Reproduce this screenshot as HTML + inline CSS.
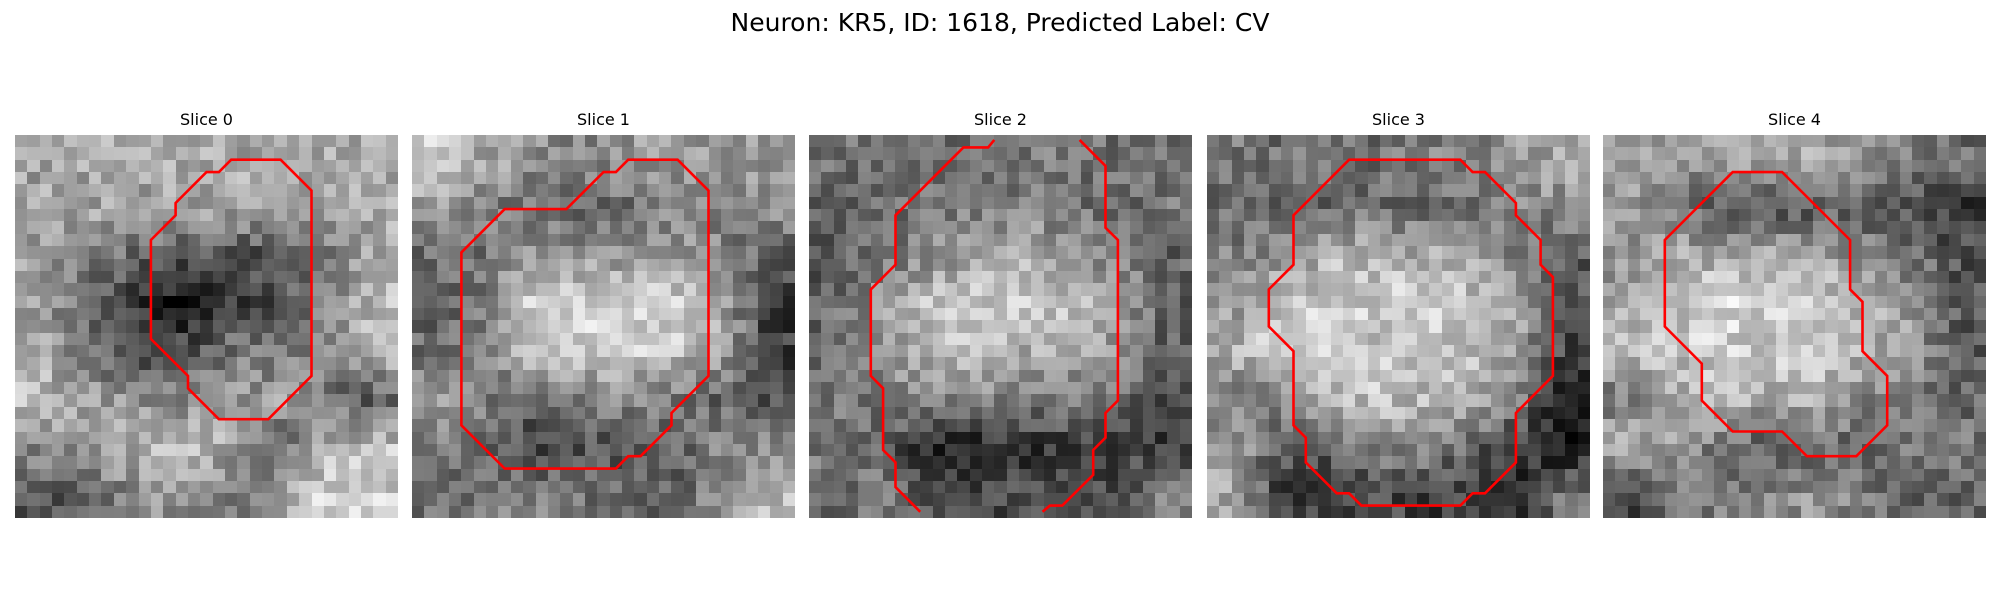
<!DOCTYPE html>
<html><head><meta charset="utf-8">
<style>
html,body{margin:0;padding:0;background:#fff;width:2000px;height:600px;overflow:hidden;font-family:"Liberation Sans","DejaVu Sans",sans-serif;}
#fig{position:absolute;left:0;top:0;}
</style></head>
<body>
<svg id="fig" width="2000" height="600" xmlns="http://www.w3.org/2000/svg">
<rect width="2000" height="600" fill="#fff"/>
<text x="1000" y="31" font-size="25" text-anchor="middle" fill="#000" font-family="DejaVu Sans, Liberation Sans, sans-serif">Neuron: KR5, ID: 1618, Predicted Label: CV</text>
<g id="panels"></g>
</svg>
<script>
const sliceLabels = ["Slice 0","Slice 1","Slice 2","Slice 3","Slice 4"];
const panelX = [15,412,809,1207,1603];
const coarse0 = [[160,170,175,170,165,170,175,165],[165,165,160,165,170,170,160,165],[160,140,105,90,80,70,120,170],[160,100,50,20,60,80,130,190],[165,110,75,85,115,115,140,195],[195,160,140,130,150,160,110,90],[140,160,175,195,170,90,170,195],[80,100,140,150,120,170,215,205]];
const coarse1 = [[200,170,150,130,150,160,150,150],[150,130,110,100,110,130,130,150],[110,110,160,150,150,160,130,90],[100,120,215,205,215,205,160,60],[110,130,195,205,205,195,160,60],[150,130,110,120,140,120,100,70],[130,100,65,85,85,100,130,150],[110,120,130,120,100,90,150,190]];
const coarse2 = [[120,120,120,110,120,120,110,110],[100,100,120,120,130,110,110,120],[90,110,140,160,170,160,120,100],[100,150,195,205,205,195,160,100],[110,150,185,185,175,175,150,90],[120,120,130,140,130,120,110,70],[120,100,35,35,55,55,55,55],[110,120,90,70,80,90,80,140]];
const coarse3 = [[120,110,130,110,130,130,150,170],[110,100,100,110,100,110,140,140],[130,140,180,180,170,160,110,90],[150,190,205,205,205,195,160,80],[180,205,205,195,195,195,160,70],[120,140,185,195,185,185,130,25],[170,90,90,140,140,100,55,25],[170,65,55,75,65,65,35,120]];
const coarse4 = [[160,160,160,170,170,150,130,110],[150,120,85,75,85,100,75,55],[140,170,170,170,170,130,110,80],[170,195,215,205,205,180,150,85],[185,195,205,205,195,170,150,85],[120,160,185,175,185,140,110,100],[170,150,115,85,105,100,130,120],[65,120,120,130,150,120,80,100]];
const contour0 = [[17.5,2],[21.5,2],[24,4.5],[24,19.5],[20.5,23],[16.5,23],[14,20.5],[14,19.5],[11,16.5],[11,8.5],[13,6.5],[13,5.5],[15.5,3],[16.5,3]];
const contour1 = [[17.5,2],[21.5,2],[24,4.5],[24,19.5],[21,22.5],[21,23.5],[18.5,26],[17.5,26],[16.5,27],[7.5,27],[4,23.5],[4,9.5],[7.5,6],[12.5,6],[15.5,3],[16.5,3]];
const contour2a = [[9,30.5],[7,28.5],[7,26.5],[6,25.5],[6,20.5],[5,19.5],[5,12.5],[7,10.5],[7,6.5],[12.5,1],[14.5,1],[15,0.4]];
const contour2b = [[21.9,0.4],[24,2.5],[24,7.5],[25,8.5],[25,21.5],[24,22.5],[24,24.5],[23,25.5],[23,27.5],[20.5,30],[19.5,30],[18.9,30.5]];
const contour3 = [[11.5,2],[20.5,2],[21.5,3],[22.5,3],[25,5.5],[25,6.5],[27,8.5],[27,10.5],[28,11.5],[28,19.5],[25,22.5],[25,26.5],[22.5,29],[21.5,29],[20.5,30],[12.5,30],[11.5,29],[10.5,29],[8,26.5],[8,24.5],[7,23.5],[7,17.5],[5,15.5],[5,12.5],[7,10.5],[7,6.5]];
const contour4 = [[10.5,3],[14.5,3],[20,8.5],[20,12.5],[21,13.5],[21,17.5],[23,19.5],[23,23.5],[20.5,26],[16.5,26],[14.5,24],[10.5,24],[8,21.5],[8,18.5],[5,15.5],[5,8.5]];

const coarseMaps = [coarse0,coarse1,coarse2,coarse3,coarse4];
const contours = [[contour0,true],[contour1,true],[contour2a,false],[contour2b,false],[contour3,true],[contour4,true]];
const contourPanel = [0,1,2,2,3,4];

const N = 31, PW = 383, PY = 135, CS = PW / N;
const NS = "http://www.w3.org/2000/svg";
const root = document.getElementById('panels');

function hash(a,b,c){let h=(a*374761393+b*668265263+c*2147483647)|0;h=(h^(h>>>13))*1274126177|0;h=h^(h>>>16);return ((h>>>0)%1000)/1000;}
function sample(m,r,c){
  const fy = (r+0.5)/N*8-0.5, fx=(c+0.5)/N*8-0.5;
  const y0=Math.max(0,Math.min(7,Math.floor(fy))), x0=Math.max(0,Math.min(7,Math.floor(fx)));
  const y1=Math.min(7,y0+1), x1=Math.min(7,x0+1);
  const ty=Math.max(0,Math.min(1,fy-y0)), tx=Math.max(0,Math.min(1,fx-x0));
  const a=m[y0][x0]*(1-tx)+m[y0][x1]*tx, b=m[y1][x0]*(1-tx)+m[y1][x1]*tx;
  return a*(1-ty)+b*ty;
}
function sx(p,c){return panelX[p]+c*CS;}
function sy(r){return PY+r*CS;}

sliceLabels.forEach((lab,p)=>{
  const g=document.createElementNS(NS,'g');
  
  
  const t=document.createElementNS(NS,'text');
  t.setAttribute('x',panelX[p]+PW/2);t.setAttribute('y',125);
  t.setAttribute('font-size','16');t.setAttribute('text-anchor','middle');
  t.setAttribute('font-family','DejaVu Sans, Liberation Sans, sans-serif');
  t.textContent=lab;
  
  
  g.appendChild(t);
  const img=document.createElementNS(NS,'g');
  img.setAttribute('shape-rendering','crispEdges');
  
  
  const m=coarseMaps[p];
  for(let r=0;r<N;r++)for(let c=0;c<N;c++){
    let v=sample(m,r,c)+(hash(r,c,p+1)-0.5)*75;
    v=Math.round(Math.max(0,Math.min(255,v)));
    const rc=document.createElementNS(NS,'rect');
    const x0=Math.round(sx(p,c)), x1=Math.round(sx(p,c+1)), y0=Math.round(sy(r)), y1=Math.round(sy(r+1));
    rc.setAttribute('x',x0);rc.setAttribute('y',y0);rc.setAttribute('width',x1-x0);rc.setAttribute('height',y1-y0);
    rc.setAttribute('fill','rgb('+v+','+v+','+v+')');
    img.appendChild(rc);
  }
  g.appendChild(img);
  root.appendChild(g);
});
contours.forEach(([pts,closed],i)=>{
  const p=contourPanel[i];
  const el=document.createElementNS(NS,closed?'polygon':'polyline');
  el.setAttribute('points',pts.map(q=>sx(p,q[0]).toFixed(1)+','+sy(q[1]).toFixed(1)).join(' '));
  el.setAttribute('fill','none');el.setAttribute('stroke','#ff0000');el.setAttribute('stroke-width','2.6');
  el.setAttribute('stroke-linejoin','miter');
  
  
  root.appendChild(el);
});
</script>
</body></html>
